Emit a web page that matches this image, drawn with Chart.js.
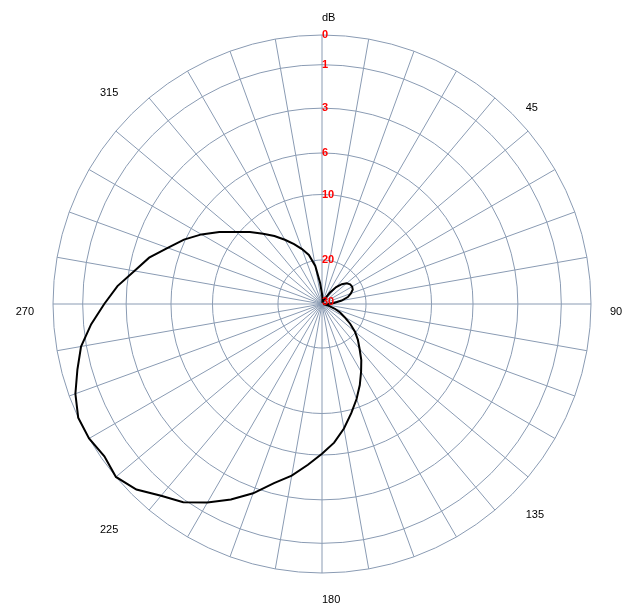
<!DOCTYPE html>
<html>
<head>
<meta charset="utf-8">
<script src="https://cdn.jsdelivr.net/npm/chart.js@4.4.1/dist/chart.umd.min.js"></script>
<style>
  html, body { margin: 0; padding: 0; background: #fff; }
  #wrap { width: 637px; height: 609px; }
</style>
</head>
<body>
<div id="wrap"><canvas id="polarChart"></canvas></div>
<script>
// azimuth in degrees, clockwise from top
const angles = [
  0, 5, 10, 15, 20, 25, 30, 35, 40, 45, 50, 55,
  60, 65, 70, 75, 80, 85, 90, 95, 100, 105, 110, 115,
  120, 125, 130, 135, 140, 145, 150, 155, 160, 165, 170, 175,
  180, 185, 190, 195, 200, 205, 210, 215, 220, 225, 230, 235,
  240, 245, 250, 255, 260, 265, 270, 275, 280, 285, 290, 295,
  300, 305, 310, 315, 320, 325, 330, 335, 340, 345, 350, 355,
];
// attenuation below the maximum, dB
const gainDb = [
  27.8, 29.2, 30, 30, 30, 30, 28.6, 26.8, 24.8, 23.4, 22.5, 22.0,
  21.9, 22.1, 22.8, 23.7, 25.3, 27.3, 28.9, 30, 30, 28.6, 27.0, 25.3,
  23.9, 22.0, 20.2, 18.7, 17.3, 15.6, 14.1, 12.5, 11.0, 9.6, 8.2, 7.0,
  6.1, 5.2, 4.3, 3.6, 2.7, 2.0, 1.4, 0.9, 0.6, 0.2, 0.0, 0.1,
  0.0, 0.0, 0.2, 0.5, 0.8, 1.3, 1.9, 2.5, 3.3, 4.0, 5.0, 5.9,
  7.0, 8.3, 9.7, 10.9, 12.2, 13.4, 14.7, 16.0, 17.3, 18.7, 21.1, 25.1,
];
const dbTicks = [0, 1, 3, 6, 10, 20, 30];
const angleTickLabels = [45, 90, 135, 180, 225, 270, 315];

const gridColor = "#8a9bb3";

// compressed dB scale: 0 dB on the rim, 30 dB in the middle
const toR = (db) => 1 - Math.log(1 + db / 3.5) / Math.log(1 + 30 / 3.5);

const polarText = {
  id: "polarText",
  afterDraw(chart) {
    const s = chart.scales.r;
    const ctx = chart.ctx;
    ctx.save();

    ctx.fillStyle = "#000";
    ctx.font = '11px "Liberation Sans", Arial, sans-serif';
    ctx.textAlign = "left";
    ctx.textBaseline = "alphabetic";
    ctx.fillText("dB", s.xCenter, s.yCenter - s.drawingArea - 14);

    ctx.textBaseline = "top";
    angles.forEach((a, i) => {
      if (!angleTickLabels.includes(a)) return;
      const p = s.getPointPosition(i, s.drawingArea + 19);
      // labels on the left half sit a little further out vertically
      const lift = a > 180 ? -Math.cos((a * Math.PI) / 180) * 21 : 0;
      ctx.textAlign = a <= 180 ? "left" : "right";
      ctx.fillText(String(a), p.x, p.y + 2 + lift);
    });

    ctx.fillStyle = "#ff0000";
    ctx.font = 'bold 11px "Liberation Sans", Arial, sans-serif';
    ctx.textAlign = "left";
    ctx.textBaseline = "middle";
    dbTicks.forEach((d) => {
      const y = s.yCenter - s.getDistanceFromCenterForValue(toR(d));
      ctx.fillText(String(d), s.xCenter, y);
    });
    ctx.restore();
  },
};

new Chart(document.getElementById("polarChart"), {
  type: "radar",
  data: {
    labels: angles.map(String),
    datasets: [
      {
        data: gainDb.map(toR),
        borderColor: "#000",
        borderWidth: 2,
        backgroundColor: "transparent",
        fill: false,
        pointRadius: 0,
        tension: 0,
      },
    ],
  },
  options: {
    responsive: true,
    maintainAspectRatio: false,
    animation: false,
    layout: { padding: { left: 52, right: 45, top: 35, bottom: 36 } },
    plugins: {
      legend: { display: false },
      tooltip: { enabled: false },
    },
    scales: {
      r: {
        min: -0.008,
        max: 1,
        afterBuildTicks: (scale) => {
          scale.ticks = dbTicks.map((d) => ({ value: toR(d) })).reverse();
        },
        ticks: { display: false },
        pointLabels: { display: false },
        grid: { circular: false, color: gridColor, lineWidth: 1 },
        angleLines: {
          color: (ctx) => (ctx.index % 2 === 0 ? gridColor : "transparent"),
          lineWidth: 1,
        },
      },
    },
  },
  plugins: [polarText],
});
</script>
</body>
</html>
